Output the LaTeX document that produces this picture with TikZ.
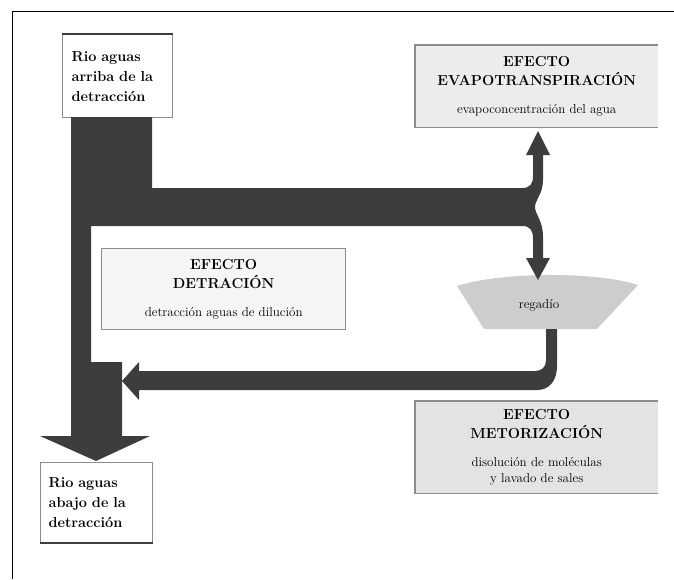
\documentclass[tikz,border=0pt]{standalone}
\usepackage{xcolor}
\definecolor{flow}{HTML}{3D3D3D}
\definecolor{boxline}{HTML}{8C8C8C}
\definecolor{fillA}{HTML}{ECECEC}
\definecolor{fillB}{HTML}{F5F5F5}
\definecolor{fillC}{HTML}{E3E3E3}
\definecolor{trap}{HTML}{CDCDCD}
\newcommand{\subtxt}{\fontsize{13}{17}\selectfont\mdseries}
\begin{document}
\begin{tikzpicture}[x=1pt,y=-1pt,
  riobox/.style={draw=boxline, line width=1.2pt, fill=white, rectangle, inner xsep=9pt, inner ysep=0pt,
    align=left, font=\fontsize{14.5}{20}\selectfont\bfseries, anchor=north west},
  effbox/.style={rectangle, inner sep=0pt, align=center, anchor=north west,
    font=\fontsize{14.5}{19.5}\selectfont\bfseries},
  edge/.style={draw=boxline, line width=1.4pt},
  flowfill/.style={fill=flow, draw=none}]
\useasboundingbox (0,0) rectangle (674,579);
% frame (top and left only)
\draw[line width=1pt, black] (674,11) -- (12,11) -- (12,579);

% boxes
\node[riobox, minimum width=110pt, minimum height=83pt, text width=92pt] (up) at (62,34)
  {Rio aguas\\arriba de la\\detracción};
\draw[flow, line width=2.2pt] (up.north west) -- (up.north east);

\node[riobox, minimum width=112pt, minimum height=80pt, text width=96pt, inner xsep=8pt] (down) at (40,462)
  {Rio aguas\\abajo de la\\detracción};
\draw[flow, line width=1.8pt] (down.south west) -- (down.south east);

\node[effbox, fill=fillA, minimum width=243pt, minimum height=82pt] (evap) at (415,45)
  {EFECTO\\EVAPOTRANSPIRACIÓN\\[8pt]{\subtxt evapoconcentración del agua}};
\draw[edge] (evap.north east) -- (evap.north west) -- (evap.south west) -- (evap.south east);

\node[effbox, fill=fillB, draw=boxline, line width=1.4pt, minimum width=244pt, minimum height=81pt] (detr) at (101,248)
  {EFECTO\\DETRACIÓN\\[8pt]{\subtxt detracción aguas de dilución}};

\node[effbox, fill=fillC, minimum width=243pt, minimum height=92pt] (meto) at (415,401)
  {EFECTO\\METORIZACIÓN\\[8pt]{\subtxt disolución de moléculas}\\[-3pt]{\subtxt y lavado de sales}};
\draw[edge] (meto.north east) -- (meto.north west) -- (meto.south west) -- (meto.south east);

% regadio trapezoid
\fill[trap] (457,286) .. controls (500,272) and (595,271) .. (638,285) -- (597,329) -- (484,329) -- cycle;
\node[font=\fontsize{13}{14}\selectfont] (reg) at (539,305) {regadío};

% return pipe from regadio to the river
\fill[flowfill] (546,329) -- (546,360) .. controls (546,367) and (542,371) .. (535,371)
  -- (139,371) -- (139,362) -- (122,381) -- (139,400) -- (139,390)
  -- (537,390) .. controls (550,390) and (557,380) .. (557,366) -- (557,329) -- cycle;

% main flow
\fill[flowfill] (71,117) -- (152,117) -- (152,188) -- (522,188)
  .. controls (530,188) and (533,184) .. (533,176) -- (533,155) -- (526,155) -- (538,131) -- (550,155) -- (543,155)
  -- (543,180) .. controls (543,194) and (535,200) .. (535,207)
  .. controls (535,214) and (543,221) .. (543,236) -- (543,258) -- (550,258) -- (538,280) -- (526,258) -- (533,258)
  -- (533,239) .. controls (533,230) and (530,226) .. (522,226) -- (91,226) -- (91,362) -- (122,362) -- (122,436)
  -- (150,436) -- (96,461) -- (40,436) -- (71,436) -- cycle;
\end{tikzpicture}
\end{document}
